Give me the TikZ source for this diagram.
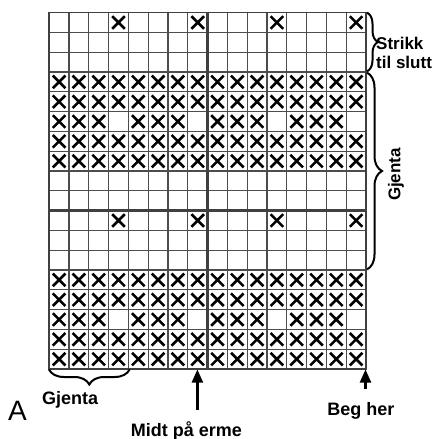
\documentclass[tikz,border=0pt]{standalone}
\usepackage{fontspec}
\setmainfont{Liberation Sans}
\usetikzlibrary{decorations.pathreplacing,arrows.meta}
\newcommand\stX[2]{%
  \draw[xm] ({49.2+(#1-1)*19.8+3.6},{12.6+(#2-1)*19.8+3.6}) -- ++(12.6,12.6)
            ({49.2+(#1-1)*19.8+16.2},{12.6+(#2-1)*19.8+3.6}) -- ++(-12.6,12.6);}
\begin{document}
\begin{tikzpicture}[x=1pt,y=-1pt,
  gridline/.style={draw=black!70, line width=1.3pt},
  heavy/.style={draw=black!75, line width=2.6pt},
  xm/.style={line width=2.6pt, draw=black},
  brc/.style={decorate, decoration={brace, amplitude=#1}, line width=2pt, draw=black},
  lbl/.style={font=\fontsize{17}{19}\selectfont\bfseries, inner sep=0pt},
  blbl/.style={font=\fontsize{18}{20}\selectfont\bfseries, inner sep=0pt},
  arr/.style={-{Triangle[length=13pt,width=11pt]}, line width=2.2pt, draw=black}]
\useasboundingbox (0,0) rectangle (435,439);
\fill[white] (0,0) rectangle (435,439);
% grid
\foreach \c in {0,...,16} \draw[gridline] ({49.2+\c*19.8},12.6) -- ({49.2+\c*19.8},369);
\foreach \r in {0,...,18} \draw[gridline] (49.2,{12.6+\r*19.8}) -- (366,{12.6+\r*19.8});
\draw[heavy] (207.6,12.6) -- (207.6,369);
\draw[heavy] (49.2,210.6) -- (366,210.6);
\draw[draw=black!75, line width=1.6pt] (49.2,12.6) rectangle (366,369);
% crosses
\foreach \r in {4,5,7,8,14,15,17,18} {\foreach \c in {1,...,16} {\stX{\c}{\r}}}
\foreach \r in {6,16} {\foreach \c in {1,2,3,5,6,7,9,10,11,13,14,15} {\stX{\c}{\r}}}
\foreach \r in {1,11} {\foreach \c in {4,8,12,16} {\stX{\c}{\r}}}
% braces
\coordinate (b1s) at (367,12.6);
\coordinate (b1e) at (367,71.4);
\draw[brc=11] (b1s) -- (b1e);
\coordinate (b2s) at (367,72.6);
\coordinate (b2e) at (367,269.4);
\draw[brc=15] (b2s) -- (b2e);
\coordinate (b3s) at (129.6,369.5);
\coordinate (b3e) at (49,369.5);
\draw[brc=15] (b3s) -- (b3e);
% labels
\node[lbl, anchor=base west] (strikk) at (376,49.5) {Strikk};
\node[lbl, anchor=base west] (tilslutt) at (376,68) {til slutt};
\node[lbl, rotate=90] (gjentaR) at (396,174.5) {Gjenta};
\node[blbl, anchor=base west] (gjentaB) at (42,404.5) {Gjenta};
\node[anchor=base, inner sep=0pt, font=\fontsize{28}{30}\selectfont] (A) at (17.5,420) {A};
\node[blbl, anchor=base] (midt) at (186.5,436) {Midt på erme};
\node[blbl, anchor=base] (beg) at (361,415) {Beg her};
% arrows
\coordinate (midtip) at (197.4,369.5);
\coordinate (midtail) at (197.4,410);
\draw[arr] (midtail) -- (midtip);
\coordinate (begtip) at (365.5,369.5);
\coordinate (begtail) at (365.5,389);
\draw[arr] (begtail) -- (begtip);
\end{tikzpicture}
\end{document}
